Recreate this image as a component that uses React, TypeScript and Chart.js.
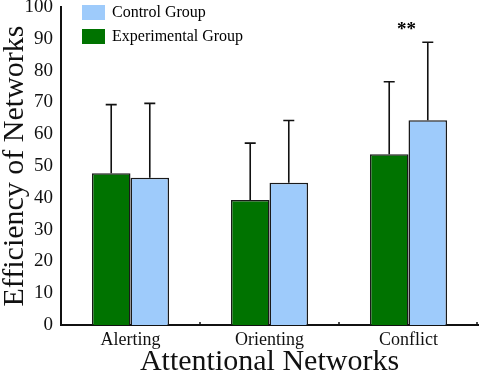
import React, { useEffect, useRef } from 'react';
import { Chart, registerables } from 'chart.js';

Chart.register(...registerables);

const categories = ['Alerting', 'Orienting', 'Conflict'];
const experimentalMeans = [47.7, 39.3, 53.7];
const experimentalSD = [21.6, 17.9, 22.8];
const controlMeans = [46.3, 44.7, 64.4];
const controlSD = [23.4, 19.6, 24.5];
const significance = ['', '', '**'];
const yMin = 0;
const yMax = 100;
const yStep = 10;

const SERIF = '"Liberation Serif", "Times New Roman", Times, serif';
const GREEN = '#007300';
const BLUE = '#9ecbfb';

const errorBarsPlugin = {
  id: 'errorBars',
  afterDatasetsDraw(chart: any) {
    const ctx = chart.ctx;
    const y = chart.scales.y;
    chart.data.datasets.forEach((ds: any, di: number) => {
      const meta = chart.getDatasetMeta(di);
      meta.data.forEach((bar: any, i: number) => {
        const top = y.getPixelForValue(ds.data[i] + ds.errors[i]);
        ctx.save();
        ctx.strokeStyle = '#111';
        ctx.lineWidth = 1.6;
        ctx.beginPath();
        ctx.moveTo(bar.x, bar.y);
        ctx.lineTo(bar.x, top);
        ctx.moveTo(bar.x - 5.5, top);
        ctx.lineTo(bar.x + 5.5, top);
        ctx.stroke();
        ctx.restore();
      });
    });
  },
};

const decorPlugin = {
  id: 'decor',
  afterDraw(chart: any) {
    const ctx = chart.ctx;
    const x = chart.scales.x;
    const y = chart.scales.y;
    const area = chart.chartArea;
    ctx.save();
    // x-axis boundary ticks (inward)
    ctx.strokeStyle = '#111';
    ctx.lineWidth = 1.5;
    for (let i = 0; i < categories.length; i++) {
      const bx = i < categories.length - 1
        ? (x.getPixelForValue(i) + x.getPixelForValue(i + 1)) / 2
        : area.right - 1;
      ctx.beginPath();
      ctx.moveTo(bx, area.bottom);
      ctx.lineTo(bx, area.bottom - 3);
      ctx.stroke();
    }
    // significance markers
    ctx.fillStyle = '#000';
    ctx.font = `bold 19px ${SERIF}`;
    ctx.textAlign = 'center';
    ctx.textBaseline = 'alphabetic';
    significance.forEach((s, i) => {
      if (!s) return;
      const top = Math.max(experimentalMeans[i] + experimentalSD[i], controlMeans[i] + controlSD[i]);
      ctx.fillText(s, x.getPixelForValue(i) - 2, y.getPixelForValue(top) - 7);
    });
    // legend (Control first, then Experimental)
    const items = [
      { label: chart.data.datasets[1].label, color: chart.data.datasets[1].backgroundColor },
      { label: chart.data.datasets[0].label, color: chart.data.datasets[0].backgroundColor },
    ];
    ctx.font = `16px ${SERIF}`;
    ctx.textAlign = 'left';
    ctx.textBaseline = 'middle';
    items.forEach((it, k) => {
      const bx = area.left + 21;
      const by = area.top - 2 + k * 24;
      ctx.fillStyle = it.color;
      ctx.fillRect(bx, by, 23, 15);
      ctx.fillStyle = '#000';
      ctx.fillText(it.label, bx + 30, by + 8);
    });
    ctx.restore();
  },
};

export default function App() {
  const ref = useRef<HTMLCanvasElement | null>(null);

  useEffect(() => {
    if (!ref.current) return;
    const chart = new Chart(ref.current, {
      type: 'bar',
      data: {
        labels: categories,
        datasets: [
          {
            label: 'Experimental Group',
            data: experimentalMeans,
            errors: experimentalSD,
            backgroundColor: GREEN,
            borderColor: '#1a1a1a',
            borderWidth: 1.5,
            barPercentage: 1,
            categoryPercentage: 0.555,
          } as any,
          {
            label: 'Control Group',
            data: controlMeans,
            errors: controlSD,
            backgroundColor: BLUE,
            borderColor: '#1a1a1a',
            borderWidth: 1.5,
            barPercentage: 1,
            categoryPercentage: 0.555,
          } as any,
        ],
      },
      options: {
        responsive: false,
        devicePixelRatio: 1,
        animation: false,
        layout: { padding: { top: 7, right: 2, left: 0, bottom: 0 } },
        plugins: {
          legend: { display: false },
          tooltip: { enabled: false },
        },
        scales: {
          x: {
            grid: { display: false, drawTicks: false },
            border: { display: true, color: '#111', width: 2 },
            ticks: {
              color: '#111',
              font: { family: SERIF, size: 18 },
              padding: 4,
            },
            title: {
              display: true,
              text: 'Attentional Networks',
              color: '#111',
              font: { family: SERIF, size: 30, lineHeight: 1 },
              padding: { top: 0, bottom: 0 },
            },
            afterFit(scale: any) {
              scale.height = 52;
              scale.paddingLeft = 0;
              scale.paddingRight = 0;
            },
          },
          y: {
            min: yMin,
            max: yMax,
            grid: { display: false, drawTicks: false },
            border: { display: true, color: '#111', width: 2 },
            ticks: {
              stepSize: yStep,
              color: '#111',
              font: { family: SERIF, size: 19 },
              padding: 8,
            },
            title: {
              display: true,
              text: 'Efficiency of Networks',
              color: '#111',
              font: { family: SERIF, size: 30, lineHeight: 1.0 },
              padding: { top: 0, bottom: 0 },
            },
            afterFit(scale: any) {
              scale.width = 61;
              scale.paddingTop = 0;
              scale.paddingBottom = 0;
            },
          },
        },
      },
      plugins: [errorBarsPlugin, decorPlugin],
    });
    return () => chart.destroy();
  }, []);

  return (
    <div style={{ position: 'absolute', left: 0, top: 0, width: 480, height: 377, background: '#fff' }}>
      <canvas ref={ref} width={480} height={377} style={{ display: 'block' }} />
    </div>
  );
}
